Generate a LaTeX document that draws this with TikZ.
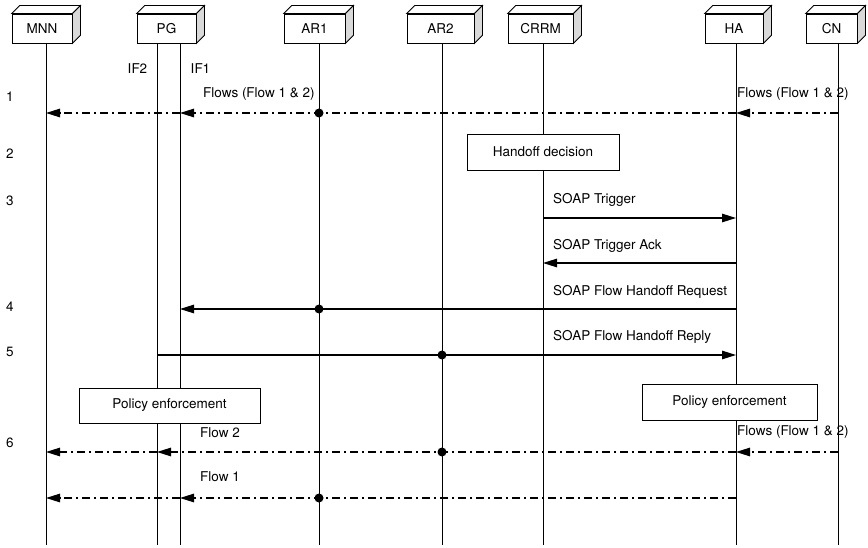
\documentclass[tikz,border=0pt]{standalone}
\usepackage{fontspec}
\setmainfont{TeX Gyre Heros}
\usetikzlibrary{arrows.meta, positioning, calc}

\begin{document}
\begin{tikzpicture}[%
    x=1pt, y=-1pt,
    >={Triangle[length=14pt,width=8.5pt]},
    every node/.style={%
      font=\fontsize{13.5}{16}\selectfont,
      inner sep=0pt
    },
    entity/.style={draw, fill=white, line width=0.8pt, minimum height=29pt},
    action/.style={draw, fill=white, line width=0.8pt},
    life/.style={line width=0.9pt},
    msg/.style={line width=1.3pt},
    flow/.style={line width=1.3pt, dash pattern=on 8pt off 4pt on 2pt off 4pt},
    hop/.style={circle, fill=black, minimum size=9pt}
  ]

  \useasboundingbox (0,0) rectangle (868,548);

  % Lifelines
  \coordinate (bottom) at (0,545);
  \coordinate (mnn-l) at (46,43);
  \coordinate (if2-l) at (157,43);
  \coordinate (if1-l) at (180,43);
  \coordinate (ar1-l) at (319,43);
  \coordinate (ar2-l) at (442,43);
  \coordinate (crrm-l) at (543,43);
  \coordinate (ha-l) at (736,43);
  \coordinate (cn-l) at (838,43);
  \foreach \l in {mnn-l,if2-l,if1-l,ar1-l,ar2-l,crrm-l,ha-l,cn-l}
    \draw[life] (\l) -- (\l |- bottom);

  % Entities
  \node[entity, minimum width=60pt] (mnn) at (42,28.5) {MNN};
  \node[entity, minimum width=59pt] (pg) at (166.5,28.5) {PG};
  \node[entity, minimum width=61pt] (ar1) at (314.5,28.5) {AR1};
  \node[entity, minimum width=67pt] (ar2) at (440.5,28.5) {AR2};
  \node[entity, minimum width=65pt] (crrm) at (540.5,28.5) {CRRM};
  \node[entity, minimum width=58pt] (ha) at (734,28.5) {HA};
  \node[entity, minimum width=51pt] (cn) at (831.5,28.5) {CN};
  \foreach \n in {mnn,pg,ar1,ar2,crrm,ha,cn} {
    \draw[line width=0.8pt, fill=white] (\n.north west) -- ++(8,-8)
      -- ($(\n.north east)+(8,-8)$) -- (\n.north east) -- cycle;
    \draw[line width=0.8pt, fill=gray!30] (\n.north east) -- ++(8,-8)
      -- ($(\n.south east)+(8,-8)$) -- (\n.south east) -- cycle;
  }

  % Interfaces and steps
  \node (if2) at (137.5,69) {IF2};
  \node (if1) at (200.5,69) {IF1};
  \foreach \s/\y in {1/97,2/154,3/201,4/307,5/352,6/443}
    \node (s\s) at (10,\y) {\s};

  % Rows
  \coordinate (r1) at (0,113);
  \coordinate (r3a) at (0,218);
  \coordinate (r3b) at (0,263);
  \coordinate (r4) at (0,309);
  \coordinate (r5) at (0,355);
  \coordinate (r6a) at (0,452);
  \coordinate (r6b) at (0,498);

  % 1. Flows before handoff
  \draw[flow,->] (cn-l |- r1) -- (ha-l |- r1);
  \draw[flow,->] (ha-l |- r1) -- (if1-l |- r1);
  \draw[flow,->] (if1-l |- r1) -- (mnn-l |- r1);
  \node[hop] (h1) at (ar1-l |- r1) {};
  \node[anchor=west] (f1a) at (203,94) {Flows (Flow 1 \& 2)};
  \node[anchor=west] (f1b) at (737,94) {Flows (Flow 1 \& 2)};

  % 2. Handoff decision
  \node[action, minimum width=152pt, minimum height=36pt] (hd) at (543,152) {Handoff decision};

  % 3. Trigger
  \draw[msg,->] (crrm-l |- r3a) -- (ha-l |- r3a);
  \node[anchor=west] (m3a) at (553,200) {SOAP Trigger};
  \draw[msg,->] (ha-l |- r3b) -- (crrm-l |- r3b);
  \node[anchor=west] (m3b) at (553,246) {SOAP Trigger Ack};

  % 4./5. Flow handoff
  \draw[msg,->] (ha-l |- r4) -- (if1-l |- r4);
  \node[hop] (h4) at (ar1-l |- r4) {};
  \node[anchor=west] (m4) at (553,292) {SOAP Flow Handoff Request};
  \draw[msg,->] (if2-l |- r5) -- (ha-l |- r5);
  \node[hop] (h5) at (ar2-l |- r5) {};
  \node[anchor=west] (m5) at (553,337) {SOAP Flow Handoff Reply};

  % Policy enforcement
  \node[action, minimum width=181pt, minimum height=35pt] (pe1) at (169.5,405.5) {Policy enforcement};
  \node[action, minimum width=175pt, minimum height=36pt] (pe2) at (729.5,402) {Policy enforcement};

  % 6. Flows after handoff
  \draw[flow,->] (cn-l |- r6a) -- (ha-l |- r6a);
  \draw[flow,->] (ha-l |- r6a) -- (if2-l |- r6a);
  \draw[flow,->] (if2-l |- r6a) -- (mnn-l |- r6a);
  \node[hop] (h6a) at (ar2-l |- r6a) {};
  \node[anchor=west] (f6a) at (200,433) {Flow 2};
  \node[anchor=west] (f6b) at (737,432) {Flows (Flow 1 \& 2)};
  \draw[flow,->] (ha-l |- r6b) -- (if1-l |- r6b);
  \draw[flow,->] (if1-l |- r6b) -- (mnn-l |- r6b);
  \node[hop] (h6b) at (ar1-l |- r6b) {};
  \node[anchor=west] (f6c) at (200,477) {Flow 1};

\end{tikzpicture}
\end{document}
